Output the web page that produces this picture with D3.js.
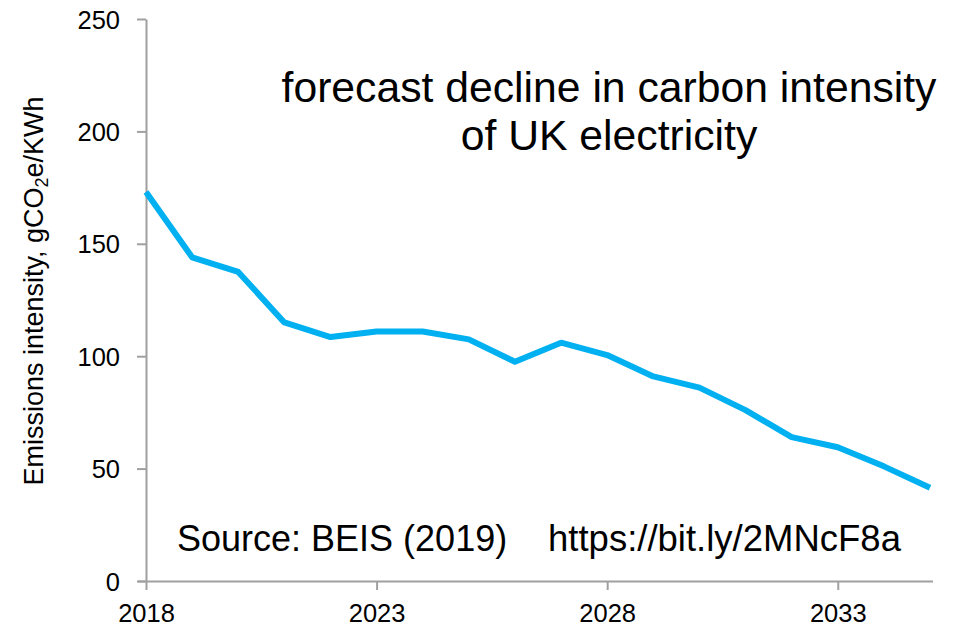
<!DOCTYPE html>
<html>
<head>
<meta charset="utf-8">
<script src="https://cdn.jsdelivr.net/npm/d3@7/dist/d3.min.js"></script>
<style>
  html, body { margin: 0; padding: 0; background: #fff; }
  svg { display: block; font-family: "Liberation Sans", Arial, sans-serif; }
</style>
</head>
<body>
<svg id="chart" width="968" height="629"></svg>
<script>
// Forecast carbon intensity of UK electricity (gCO2e/kWh), BEIS 2019
const years = [2018, 2019, 2020, 2021, 2022, 2023, 2024, 2025, 2026,
               2027, 2028, 2029, 2030, 2031, 2032, 2033, 2034, 2035];
const intensity = [173, 144, 137.5, 115, 108.5, 111, 111, 107.5, 97.5,
                   106, 100.5, 91, 86, 76, 64, 59.5, 51, 41.5];
const yTicks = [0, 50, 100, 150, 200, 250];
const xTicks = [2018, 2023, 2028, 2033];

const svg = d3.select("#chart");
const axisColor = "#a0a0a0";
const lineColor = "#00b0f0";
const font = "'Liberation Sans', Arial, sans-serif";

const x = d3.scaleLinear().domain([2018, 2035]).range([146, 930]);
const y = d3.scaleLinear().domain([0, 250]).range([581, 19]);

// y axis
const gy = svg.append("g").attr("transform", `translate(${x(2018)},0)`)
  .call(d3.axisLeft(y).tickValues(yTicks).tickSize(9).tickPadding(17).tickSizeOuter(0));
gy.select(".domain").attr("stroke", axisColor).attr("stroke-width", 2);
gy.selectAll(".tick line").attr("stroke", axisColor).attr("stroke-width", 2);
gy.selectAll(".tick text")
  .attr("fill", "#000").attr("font-size", 25.5).attr("font-family", font)
  .attr("dy", "0.36em");

// x axis
const gx = svg.append("g").attr("transform", `translate(0,${y(0)})`)
  .call(d3.axisBottom(x).tickValues(xTicks).tickFormat(d3.format("d")).tickSize(9).tickSizeOuter(0));
gx.select(".domain").attr("stroke", axisColor).attr("stroke-width", 2)
  .attr("d", `M${x(2018) - 8},0.5H${x(2035) + 3}`);
gx.selectAll(".tick line").attr("stroke", axisColor).attr("stroke-width", 2);
gx.selectAll(".tick text")
  .attr("fill", "#000").attr("font-size", 25.5).attr("font-family", font)
  .attr("y", 41).attr("dy", 0);

// y axis title
svg.append("text")
  .attr("transform", "translate(43,291) rotate(-90)")
  .attr("text-anchor", "middle")
  .attr("font-size", 27)
  .attr("fill", "#000")
  .call(t => {
    t.append("tspan").text("Emissions intensity, gCO");
    t.append("tspan").attr("font-size", 18).attr("dy", 5).text("2");
    t.append("tspan").attr("dy", -5).text("e/KWh");
  });

// intensity line
const line = d3.line().x((d, i) => x(years[i])).y(d => y(d));
svg.append("path")
  .datum(intensity)
  .attr("d", line)
  .attr("fill", "none")
  .attr("stroke", lineColor)
  .attr("stroke-width", 6)
  .attr("stroke-linejoin", "round");

// headline
svg.append("text").attr("x", 609).attr("y", 102).attr("text-anchor", "middle")
  .attr("font-size", 42.7).attr("fill", "#000")
  .text("forecast decline in carbon intensity");
svg.append("text").attr("x", 609).attr("y", 150).attr("text-anchor", "middle")
  .attr("font-size", 42.7).attr("fill", "#000")
  .text("of UK electricity");

// source notes
svg.append("text").attr("x", 177).attr("y", 551)
  .attr("font-size", 36).attr("fill", "#000")
  .text("Source: BEIS (2019)");
svg.append("text").attr("x", 548).attr("y", 551)
  .attr("font-size", 36.5).attr("fill", "#000")
  .text("https://bit.ly/2MNcF8a");
</script>
</body>
</html>
